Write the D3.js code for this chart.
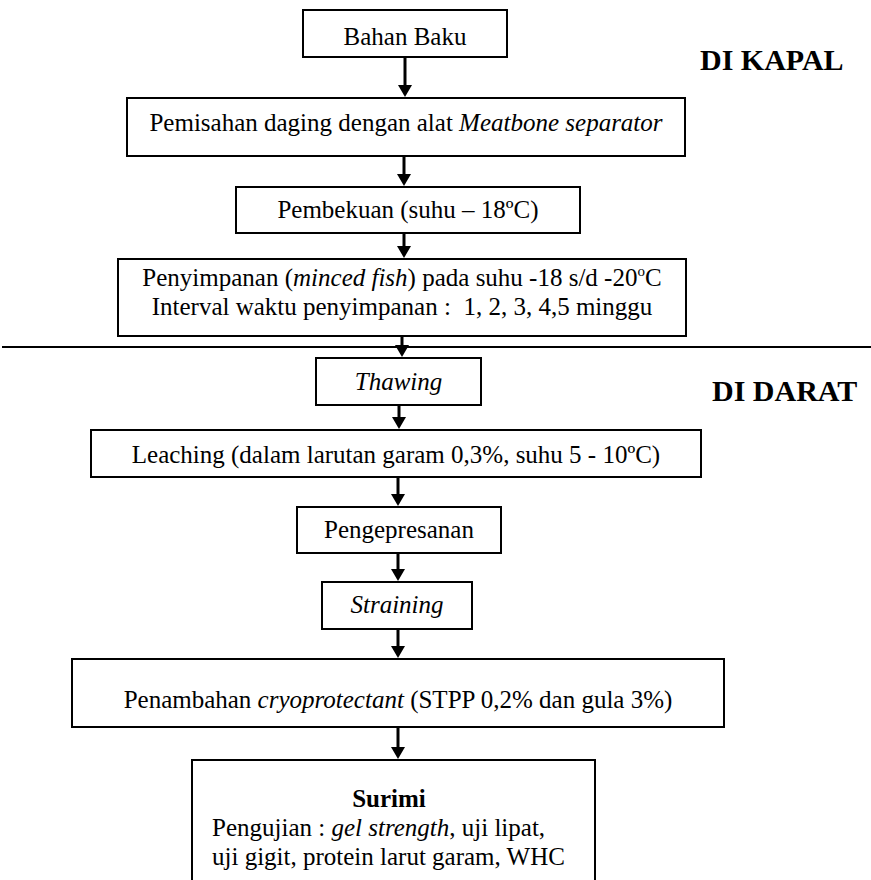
<!DOCTYPE html>
<html lang="id">
<head>
  <meta charset="utf-8">
  <title>Diagram alir pembuatan surimi</title>
  <script src="https://d3js.org/d3.v7.min.js"></script>
  <style>
    body { margin: 0; background: #fff; }
    text { font-family: "Liberation Serif", "Times New Roman", serif; fill: #000; white-space: pre; }
  </style>
</head>
<body>
<div id="chart"></div>
<script>
// step texts: each step = lines, each line = runs of [text, style]
// style: "n" normal, "i" italic, "b" bold, "sup" superscript
var stepLines = [
  [[["Bahan Baku", "n"]]],
  [[["Pemisahan daging dengan alat ", "n"], ["Meatbone separator", "i"]]],
  [[["Pembekuan (suhu \u2013 18\u00baC)", "n"]]],
  [[["Penyimpanan (", "n"], ["minced fish", "i"], [") pada suhu -18 s/d -20", "n"], ["o", "sup"], ["C", "n"]],
   [["Interval waktu penyimpanan :  1, 2, 3, 4,5 minggu", "n"]]],
  [[["Thawing", "i"]]],
  [[["Leaching (dalam larutan garam 0,3%, suhu 5 - 10\u00baC)", "n"]]],
  [[["Pengepresanan", "n"]]],
  [[["Straining", "i"]]],
  [[["Penambahan ", "n"], ["cryoprotectant", "i"], [" (STPP 0,2% dan gula 3%)", "n"]]],
  [[["Surimi", "b"]],
   [["Pengujian : ", "n"], ["gel strength", "i"], [", uji lipat,", "n"]],
   [["uji gigit, protein larut garam, WHC", "n"]]]
];

var zoneLabels = ["DI KAPAL", "DI DARAT"];

// layout of the drawing (pixels)
var boxLeft   = [303, 127, 236, 118, 316,  91, 297, 322,  72, 192];
var boxRight  = [507, 685, 580, 686, 481, 701, 501, 472, 724, 595];
var boxTop    = [ 10,  98, 187, 259, 358, 430, 507, 582, 659, 760];
var boxBottom = [ 57, 156, 233, 336, 405, 477, 553, 629, 727, 890];
var textBase  = [[45], [131], [218], [286, 315], [390], [463], [538], [613], [708], [807, 836, 865]];
var arrowX    = [405, 404, 404, 402, 399, 398, 398, 398, 398];
var zoneX     = [700, 712];
var zoneY     = [70, 401];

var width = 871, height = 880;
var fontSize = 25;

var svg = d3.select("#chart")
  .append("svg")
    .attr("width", width)
    .attr("height", height);

var idx = d3.range(stepLines.length);

// boxes
svg.append("g")
  .selectAll("rect")
  .data(idx)
  .enter()
  .append("rect")
    .attr("x", function(i){ return boxLeft[i]; })
    .attr("y", function(i){ return boxTop[i]; })
    .attr("width", function(i){ return boxRight[i] - boxLeft[i]; })
    .attr("height", function(i){ return boxBottom[i] - boxTop[i]; })
    .attr("fill", "none")
    .attr("stroke", "#000")
    .attr("stroke-width", 2);

// separator between ship and land
svg.append("line")
  .attr("x1", 2).attr("x2", width)
  .attr("y1", 347).attr("y2", 347)
  .attr("stroke", "#000")
  .attr("stroke-width", 2);

// arrows between boxes
var arrows = svg.append("g");
d3.range(arrowX.length).forEach(function(i){
  var x = arrowX[i], y0 = boxBottom[i] + 1, y1 = boxTop[i + 1] - 1;
  arrows.append("line")
    .attr("x1", x).attr("x2", x)
    .attr("y1", y0).attr("y2", y1 - 10)
    .attr("stroke", "#000")
    .attr("stroke-width", 3);
  arrows.append("path")
    .attr("d", "M" + (x - 7) + "," + (y1 - 12) + "L" + (x + 7) + "," + (y1 - 12) + "L" + x + "," + y1 + "Z")
    .attr("fill", "#000");
});

// texts
var labels = svg.append("g");
idx.forEach(function(i){
  stepLines[i].forEach(function(line, j){
    var cx = (boxLeft[i] + boxRight[i]) / 2;
    var anchor = "middle";
    // last box: title centred, test list left aligned
    if (i === 9) {
      if (j === 0) cx = 389; else { cx = 212; anchor = "start"; }
    }
    var t = labels.append("text")
      .attr("x", cx)
      .attr("y", textBase[i][j])
      .attr("text-anchor", anchor)
      .style("font-size", fontSize + "px");
    line.forEach(function(run, k){
      var ts = t.append("tspan").text(run[0]);
      if (run[1] === "i") ts.style("font-style", "italic");
      if (run[1] === "b") ts.style("font-weight", "bold");
      if (run[1] === "sup") ts.style("font-size", "15px").attr("dy", -10);
      // back to the baseline after a superscript
      if (k > 0 && line[k - 1][1] === "sup") ts.attr("dy", 10);
    });
  });
});

// zone labels
svg.append("g")
  .selectAll("text")
  .data(zoneLabels)
  .enter()
  .append("text")
    .attr("x", function(d, i){ return zoneX[i]; })
    .attr("y", function(d, i){ return zoneY[i]; })
    .style("font-size", "30px")
    .style("font-weight", "bold")
    .text(function(d){ return d; });
</script>
</body>
</html>
